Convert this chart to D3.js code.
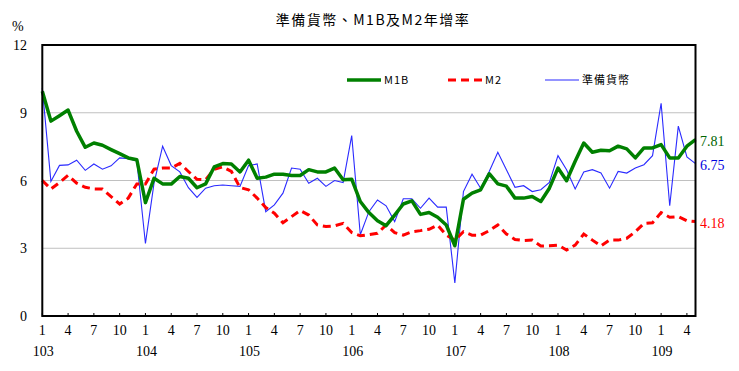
<!DOCTYPE html>
<html>
<head>
<meta charset="utf-8">
<script src="https://cdn.jsdelivr.net/npm/d3@7"></script>
<style>
  body { margin: 0; background: #fff; }
  text { font-family: "Liberation Serif", "Times New Roman", serif; }
  .cjk { font-family: "Noto Sans CJK TC", "Noto Sans", sans-serif; }
</style>
</head>
<body>
<div class="chart"></div>
<script>
// monthly year-on-year growth, 103/1 .. 109/5
const m1b = [9.95, 8.63, 8.87, 9.12, 8.18, 7.47, 7.66, 7.56, 7.37, 7.19, 7.0, 6.92,
  5.02, 6.1, 5.85, 5.84, 6.18, 6.1, 5.68, 5.85, 6.6, 6.75, 6.73, 6.38,
  6.9, 6.1, 6.15, 6.28, 6.28, 6.22, 6.22, 6.48, 6.38, 6.38, 6.55, 6.03,
  6.06, 5.07, 4.58, 4.22, 4.0, 4.47, 4.96, 5.1, 4.5, 4.58, 4.37, 4.03,
  3.11, 5.17, 5.44, 5.59, 6.3, 5.85, 5.75, 5.22, 5.22, 5.29, 5.07, 5.66,
  6.55, 5.99, 6.85, 7.66, 7.25, 7.34, 7.32, 7.52, 7.4, 7.0, 7.44, 7.44,
  7.59, 7.0, 7.0, 7.52, 7.81];

const m2 = [6.0, 5.62, 5.91, 6.23, 5.88, 5.7, 5.63, 5.62, 5.29, 4.96, 5.22, 5.85,
  5.85, 6.5, 6.55, 6.55, 6.76, 6.4, 6.05, 6.03, 6.5, 6.6, 6.4, 5.69,
  5.59, 5.22, 4.8, 4.55, 4.13, 4.4, 4.67, 4.47, 4.03, 3.96, 3.99, 4.1,
  3.7, 3.55, 3.6, 3.66, 4.03, 3.69, 3.58, 3.73, 3.78, 3.84, 4.03, 3.58,
  3.36, 3.73, 3.58, 3.58, 3.78, 4.03, 3.63, 3.39, 3.34, 3.36, 3.1, 3.11,
  3.14, 2.92, 3.14, 3.63, 3.36, 3.1, 3.36, 3.36, 3.44, 3.73, 4.1, 4.13,
  4.58, 4.37, 4.4, 4.22, 4.18];

const reserve = [10.1, 5.96, 6.67, 6.69, 6.9, 6.45, 6.73, 6.5, 6.65, 7.0, 6.97, 6.85,
  3.21, 5.88, 7.52, 6.66, 6.38, 5.68, 5.25, 5.66, 5.77, 5.8, 5.77, 5.74,
  6.66, 6.73, 4.62, 4.92, 5.44, 6.55, 6.5, 5.88, 6.1, 5.74, 6.0, 5.91,
  7.99, 3.6, 4.62, 5.14, 4.88, 4.18, 5.19, 5.19, 4.77, 5.22, 4.82, 4.82,
  1.46, 5.51, 6.28, 5.66, 6.4, 7.25, 6.48, 5.7, 5.77, 5.51, 5.59, 5.91,
  7.1, 6.48, 5.62, 6.38, 6.48, 6.33, 5.66, 6.4, 6.33, 6.55, 6.7, 7.1,
  9.42, 4.88, 8.41, 7.04, 6.75];

const years = ['103', '104', '105', '106', '107', '108', '109'];
const tickMonths = [1, 4, 7, 10];
const yTicks = [0, 3, 6, 9, 12];

const width = 739;
const height = 371;
const plotLeft = 42.3, plotRight = 695.5, plotTop = 45, plotBottom = 316;

const svg = d3.select(".chart")
    .append("svg")
    .attr("width", width)
    .attr("height", height);

const x = d3.scaleLinear().domain([0, m1b.length - 1]).range([plotLeft, plotRight]);
const y = d3.scaleLinear().domain([0, 12]).range([plotBottom, plotTop]);

// gridlines
svg.selectAll(".grid")
    .data(yTicks.filter(d => d > 0 && d < 12))
    .enter()
    .append("line")
    .attr("x1", plotLeft).attr("x2", plotRight)
    .attr("y1", d => y(d)).attr("y2", d => y(d))
    .style("stroke", "#c0c0c0")
    .style("stroke-width", 1);

// y labels
svg.selectAll(".ylab")
    .data(yTicks)
    .enter()
    .append("text")
    .attr("x", 27)
    .attr("y", d => y(d) + 5)
    .attr("text-anchor", "end")
    .style("font-size", "14px")
    .text(d => d);

svg.append("text")
    .attr("x", 12).attr("y", 31)
    .style("font-size", "14px")
    .text("%");

// x ticks: every 3 months
const ticks = [];
years.forEach((yr, yi) => {
  tickMonths.forEach(m => {
    const idx = yi * 12 + m - 1;
    if (idx < m1b.length) ticks.push({ idx: idx, label: m });
  });
});

svg.selectAll(".xtick")
    .data(ticks)
    .enter()
    .append("line")
    .attr("x1", d => x(d.idx)).attr("x2", d => x(d.idx))
    .attr("y1", plotBottom).attr("y2", plotBottom - 3)
    .style("stroke", "#000")
    .style("stroke-width", 1);

svg.selectAll(".xlab")
    .data(ticks)
    .enter()
    .append("text")
    .attr("x", d => x(d.idx))
    .attr("y", 335)
    .attr("text-anchor", "middle")
    .style("font-size", "14px")
    .text(d => d.label);

svg.selectAll(".yearlab")
    .data(years)
    .enter()
    .append("text")
    .attr("x", (d, i) => x(i * 12) + 1)
    .attr("y", 356)
    .attr("text-anchor", "middle")
    .style("font-size", "14px")
    .text(d => d);

// lines
const line = d3.line()
    .x((d, i) => x(i))
    .y(d => y(d));

svg.append("path")
    .datum(reserve)
    .attr("d", line)
    .style("fill", "none")
    .style("stroke", "#2a2aff")
    .style("stroke-width", 1.1);

svg.append("path")
    .datum(m2)
    .attr("d", line)
    .style("fill", "none")
    .style("stroke", "#ff0000")
    .style("stroke-width", 3)
    .style("stroke-dasharray", "8,5");

svg.append("path")
    .datum(m1b)
    .attr("d", line)
    .style("fill", "none")
    .style("stroke", "#008000")
    .style("stroke-width", 3.5)
    .style("stroke-linejoin", "round");

// frame
svg.append("rect")
    .attr("x", plotLeft).attr("y", plotTop)
    .attr("width", plotRight - plotLeft).attr("height", plotBottom - plotTop)
    .style("fill", "none")
    .style("stroke", "#000")
    .style("stroke-width", 2);

// end labels
const ends = [
  { v: m1b[m1b.length - 1], color: "#006400" },
  { v: reserve[reserve.length - 1], color: "#0000e0" },
  { v: m2[m2.length - 1], color: "#ff0000" }
];
svg.selectAll(".endlab")
    .data(ends)
    .enter()
    .append("text")
    .attr("x", 700)
    .attr("y", d => y(d.v) + 6)
    .style("font-size", "14px")
    .style("fill", d => d.color)
    .text(d => d.v.toFixed(2));

// title
svg.append("text")
    .attr("class", "cjk")
    .attr("x", 373).attr("y", 25)
    .attr("text-anchor", "middle")
    .style("font-size", "14px")
    .style("letter-spacing", "1.5px")
    .text("準備貨幣、M1B及M2年增率");

// legend
const legendItems = [
  { name: "M1B", x0: 347, color: "#008000", w: 3.5, dash: null },
  { name: "M2", x0: 448, color: "#ff0000", w: 3, dash: "8,5" },
  { name: "準備貨幣", x0: 545, color: "#2a2aff", w: 1.1, dash: null }
];
const lg = svg.selectAll(".legend")
    .data(legendItems)
    .enter()
    .append("g");
lg.append("line")
    .attr("x1", d => d.x0).attr("x2", d => d.x0 + 34)
    .attr("y1", 80).attr("y2", 80)
    .style("stroke", d => d.color)
    .style("stroke-width", d => d.w)
    .style("stroke-dasharray", d => d.dash);
lg.append("text")
    .attr("class", "cjk")
    .attr("x", d => d.x0 + 37)
    .attr("y", 84)
    .style("font-size", "11px")
    .style("letter-spacing", "1px")
    .text(d => d.name);
</script>
</body>
</html>
